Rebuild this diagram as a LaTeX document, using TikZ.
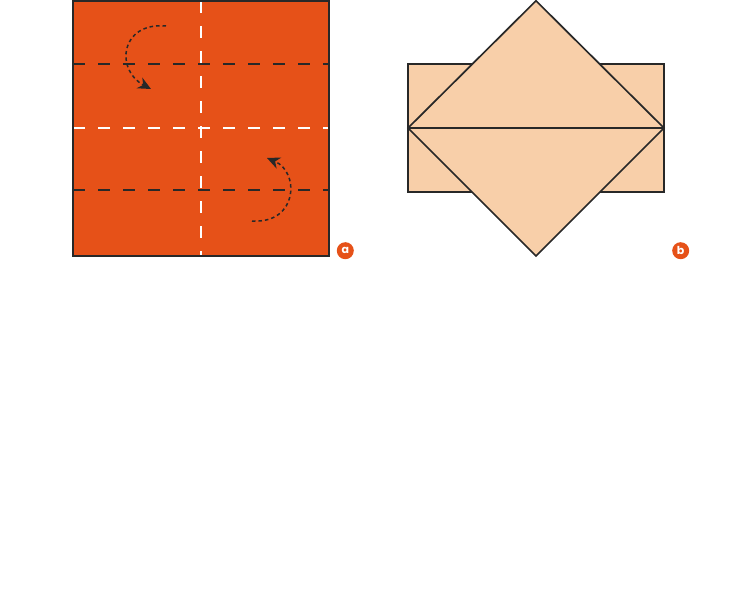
\documentclass[tikz,border=0pt]{standalone}
\usepackage{fontspec}
\setmainfont{Poppins}
\usetikzlibrary{arrows.meta}
\definecolor{paperorange}{RGB}{230,81,24}
\definecolor{peach}{RGB}{248,207,169}
\definecolor{edge}{RGB}{40,40,40}
\tikzset{
  foldline/.style={line width=1.7pt, dash pattern=on 12pt off 13pt},
  turnarrow/.style={line width=1.5pt, edge, dash pattern=on 3.5pt off 3pt, -{Stealth[length=13pt,width=12pt]}},
  steplabel/.style={circle, fill=paperorange, text=white, inner sep=0pt, minimum size=17pt, font=\bfseries\fontsize{11pt}{11pt}\selectfont}
}
\begin{document}
\begin{tikzpicture}[x=1pt,y=-1pt]
\useasboundingbox (0,0) rectangle (737,594);
% --- panel a ---
\fill[paperorange] (73,1) rectangle (329,256);
\draw[foldline, edge] (73,64) -- (329,64);
\draw[foldline, edge] (73,190) -- (329,190);
\draw[foldline, white] (73,128) -- (329,128);
\draw[foldline, white] (201,1) -- (201,256);
\draw[edge, line width=1.7pt] (73,1) rectangle (329,256);
\draw[turnarrow] (166,26) .. controls (120,22) and (115,70) .. (151,89);
\draw[turnarrow] (252,221) .. controls (298,224) and (300,172) .. (267,158);
\node[steplabel] (la) at (345.3,250.7) {a};
% --- panel b ---
\draw[edge, line width=1.7pt, fill=peach] (408,64) rectangle (664,192);
\draw[edge, line width=1.7pt, fill=peach, line join=miter] (536,0.8) -- (664,128) -- (536,256) -- (408,128) -- cycle;
\draw[edge, line width=1.7pt] (408,128) -- (664,128);
\node[steplabel] (lb) at (680.7,250.7) {b};
\end{tikzpicture}
\end{document}
